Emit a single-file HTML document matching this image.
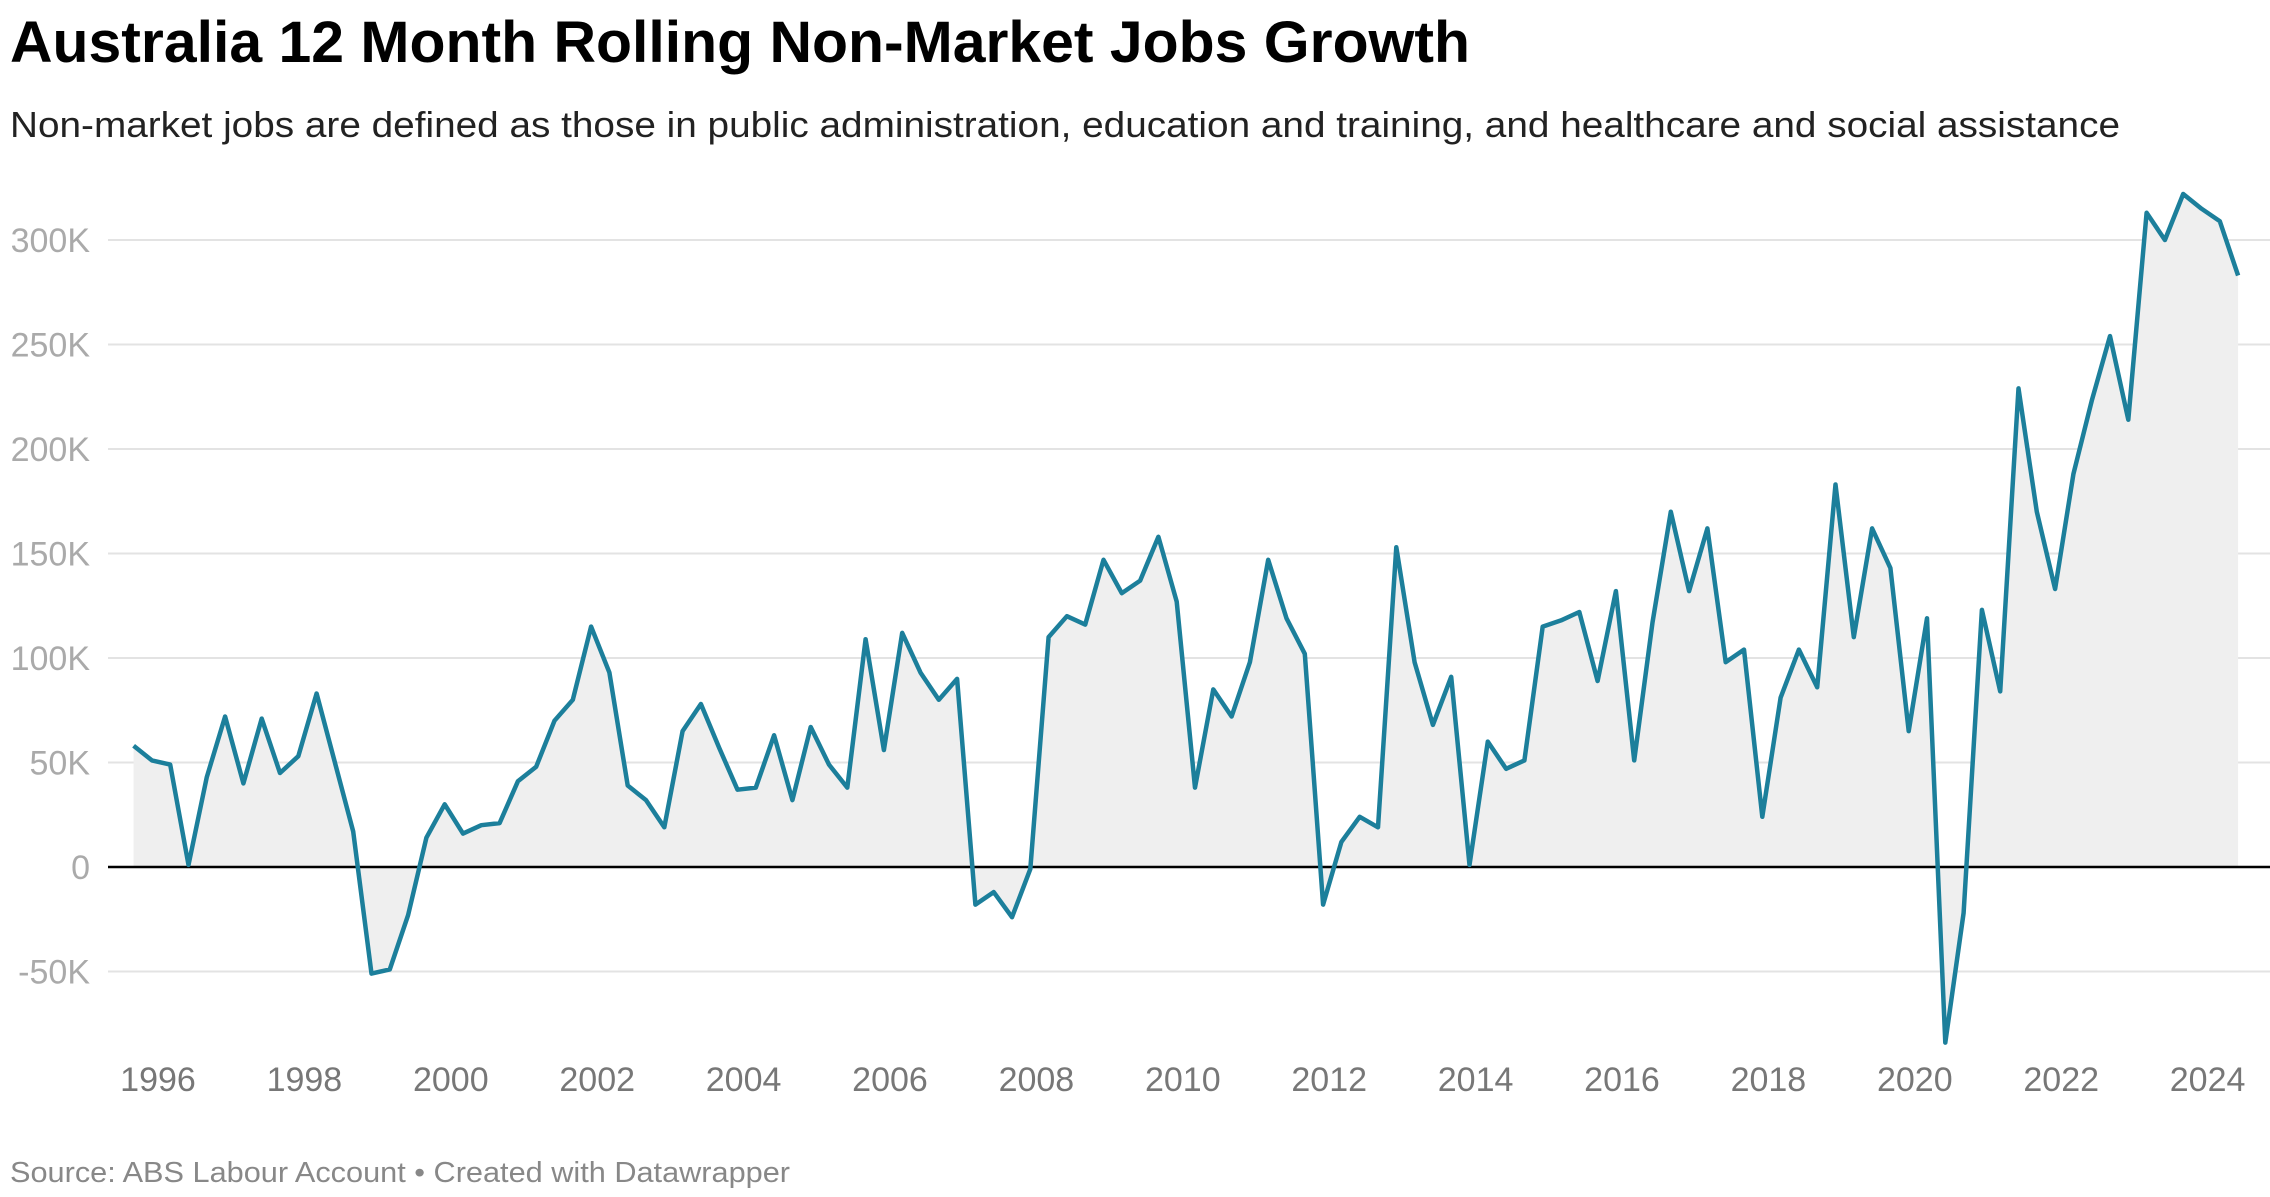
<!DOCTYPE html>
<html><head><meta charset="utf-8"><style>
html,body{margin:0;padding:0;background:#fff;}
svg{display:block;font-family:"Liberation Sans",Arial,sans-serif;}
</style></head><body>
<svg id="chart" width="2270" height="1197" viewBox="0 0 2270 1197">
<text x="10" y="62" font-size="58" font-weight="bold" fill="#000" textLength="1460" lengthAdjust="spacingAndGlyphs">Australia 12 Month Rolling Non-Market Jobs Growth</text>
<text x="10" y="137" font-size="36" fill="#222" textLength="2110" lengthAdjust="spacingAndGlyphs">Non-market jobs are defined as those in public administration, education and training, and healthcare and social assistance</text>
<g id="grid"></g>
<g id="area"></g>
<g id="zero"></g>
<g id="line"></g>
<g id="xaxis"></g>
<text x="10" y="1182" font-size="29" fill="#888" textLength="780" lengthAdjust="spacingAndGlyphs">Source: ABS Labour Account • Created with Datawrapper</text>
</svg>
<script>
const startYear = 1995.667;
const stepYears = 0.25;
const values = [58,51,49,1,43,72,40,71,45,53,83,50,17,-51,-49,-23,14,30,16,20,21,41,48,70,80,115,93,39,32,19,65,78,57,37,38,63,32,67,49,38,109,56,112,93,80,90,-18,-12,-24,-1,110,120,116,147,131,137,158,127,38,85,72,98,147,119,102,-18,12,24,19,153,98,68,91,1,60,47,51,115,118,122,89,132,51,117,170,132,162,98,104,24,81,104,86,183,110,162,143,65,119,-84,-22,123,84,229,170,133,188,223,254,214,313,300,322,315,309,283];
const yTicks = [-50,0,50,100,150,200,250,300];
const yTickLabels = ["-50K","0","50K","100K","150K","200K","250K","300K"];
const xTicks = [1996,1998,2000,2002,2004,2006,2008,2010,2012,2014,2016,2018,2020,2022,2024];

const NS = "http://www.w3.org/2000/svg";
function X(yr){ return 158 + (yr - 1996) * 73.2; }
function Y(v){ return 867 - v * (104.5 / 50); }
function mk(tag, attrs, parent){ const e = document.createElementNS(NS, tag); for (const k in attrs) e.setAttribute(k, attrs[k]); parent.appendChild(e); return e; }

const grid = document.getElementById('grid');
yTicks.forEach((t, i) => {
  if (t !== 0) {
    const l = mk('line', {x1:108, x2:2270, y1:Y(t), y2:Y(t), stroke:'#e3e3e3', 'stroke-width':2}, grid);
    
    
  }
  const tx = mk('text', {x:90, y:Y(t)+12, 'text-anchor':'end', 'font-size':34, fill:'#aaa'}, grid);
  tx.textContent = yTickLabels[i];
  
  
});

const pts = values.map((v, i) => [X(startYear + i * stepYears), Y(v)]);
const d = pts.map((p, i) => (i ? 'L' : 'M') + p[0].toFixed(1) + ',' + p[1].toFixed(1)).join('');
const area = mk('path', {d: d + 'L' + pts[pts.length-1][0].toFixed(1) + ',' + Y(0) + 'L' + pts[0][0].toFixed(1) + ',' + Y(0) + 'Z', fill:'#efefef'}, document.getElementById('area'));



const z = mk('line', {x1:108, x2:2270, y1:Y(0), y2:Y(0), stroke:'#000', 'stroke-width':2.5}, document.getElementById('zero'));



const ln = mk('path', {d:d, fill:'none', stroke:'#1c7f9b', 'stroke-width':4.5, 'stroke-linejoin':'round'}, document.getElementById('line'));



const xa = document.getElementById('xaxis');
xTicks.forEach(t => {
  const tx = mk('text', {x:X(t), y:1091, 'text-anchor':'middle', 'font-size':34, fill:'#777'}, xa);
  tx.textContent = String(t);
  
  
});
</script>
</body></html>
